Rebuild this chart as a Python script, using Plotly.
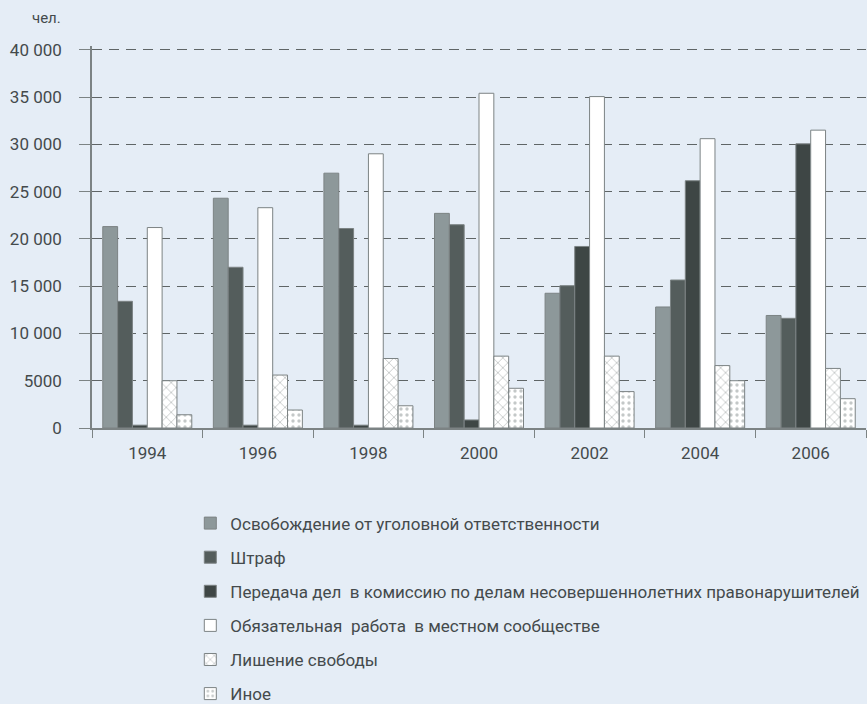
import plotly.graph_objects as go

years = ["1994", "1996", "1998", "2000", "2002", "2004", "2006"]
series_names = [
    "Освобождение от уголовной ответственности",
    "Штраф",
    "Передача дел  в комиссию по делам несовершеннолетних правонарушителей",
    "Обязательная  работа  в местном сообществе",
    "Лишение свободы",
    "Иное",
]
osvobozhdenie = [21300, 24300, 26950, 22700, 14250, 12800, 11900]
shtraf = [13400, 17000, 21100, 21500, 15050, 15650, 11600]
peredacha = [300, 300, 300, 850, 19200, 26150, 30050]
obyazatelnaya = [21200, 23300, 29000, 35400, 35050, 30600, 31500]
lishenie = [5000, 5600, 7350, 7600, 7600, 6600, 6300]
inoe = [1400, 1900, 2350, 4200, 3850, 5000, 3100]

y_tickvals = [0, 5000, 10000, 15000, 20000, 25000, 30000, 35000, 40000]
y_ticktext = ["0", "5000", "10 000", "15 000", "20 000", "25 000", "30 000", "35 000", "40 000"]

FONT = "Roboto, Liberation Sans Narrow, sans-serif"
BG = "#e5edf6"
TXT = "#444a4c"
EDGE = "#7c8384"

values = [osvobozhdenie, shtraf, peredacha, obyazatelnaya, lishenie, inoe]
styles = [
    dict(color="#8d989a"),
    dict(color="#545d5c"),
    dict(color="#3e4645"),
    dict(color="#ffffff"),
    dict(color="#ffffff", pattern=dict(shape="x", fgcolor="#6f7778", bgcolor="#ffffff", size=7, solidity=0.2)),
    dict(color="#ffffff", pattern=dict(shape=".", fgcolor="#8a9192", bgcolor="#ffffff", size=6, solidity=0.25)),
]

fig = go.Figure()
for i, (name, vals, st) in enumerate(zip(series_names, values, styles)):
    fig.add_trace(go.Bar(
        x=years, y=vals, name=name, legendgroup=f"g{i}",
        marker=dict(line=dict(color=EDGE, width=1), **st),
    ))

fig.update_layout(
    width=867, height=704,
    paper_bgcolor=BG, plot_bgcolor=BG,
    margin=dict(l=92, r=1, t=46, b=276, autoexpand=False),
    barmode="group", bargap=0.195, bargroupgap=0,
    font=dict(family=FONT, size=17, color=TXT),
    showlegend=True,
    legend=dict(
        x=0.127, xanchor="left", y=-0.203, yanchor="top",
        orientation="v", traceorder="grouped", tracegroupgap=9,
        font=dict(family=FONT, size=17, color=TXT),
        bgcolor="rgba(0,0,0,0)",
    ),
    annotations=[dict(
        text="чел.", xref="paper", yref="paper",
        x=(63 - 92) / 774, y=(428 - 18) / 382,
        xanchor="right", yanchor="middle",
        showarrow=False, font=dict(family=FONT, size=15, color=TXT),
    )],
)

fig.update_xaxes(
    type="category", showline=True, linecolor=EDGE, linewidth=1.5,
    ticks="outside", tickson="boundaries", ticklen=8, tickcolor=EDGE,
    showgrid=False, tickfont=dict(size=17, color=TXT), ticklabelstandoff=9,
)
fig.update_yaxes(
    range=[0, 40400], tickvals=y_tickvals, ticktext=y_ticktext,
    showline=True, linecolor=EDGE, linewidth=1.5,
    ticks="outside", ticklen=11, tickcolor=EDGE, ticklabelstandoff=14,
    showgrid=True, gridcolor="#5f6566", griddash="10px,7px", gridwidth=1,
    zeroline=False, tickfont=dict(size=17, color=TXT),
)

fig.write_html(
    "out.html",
    config={"displayModeBar": False},
    post_script="document.body.style.margin='0';document.body.style.overflow='hidden';",
)
